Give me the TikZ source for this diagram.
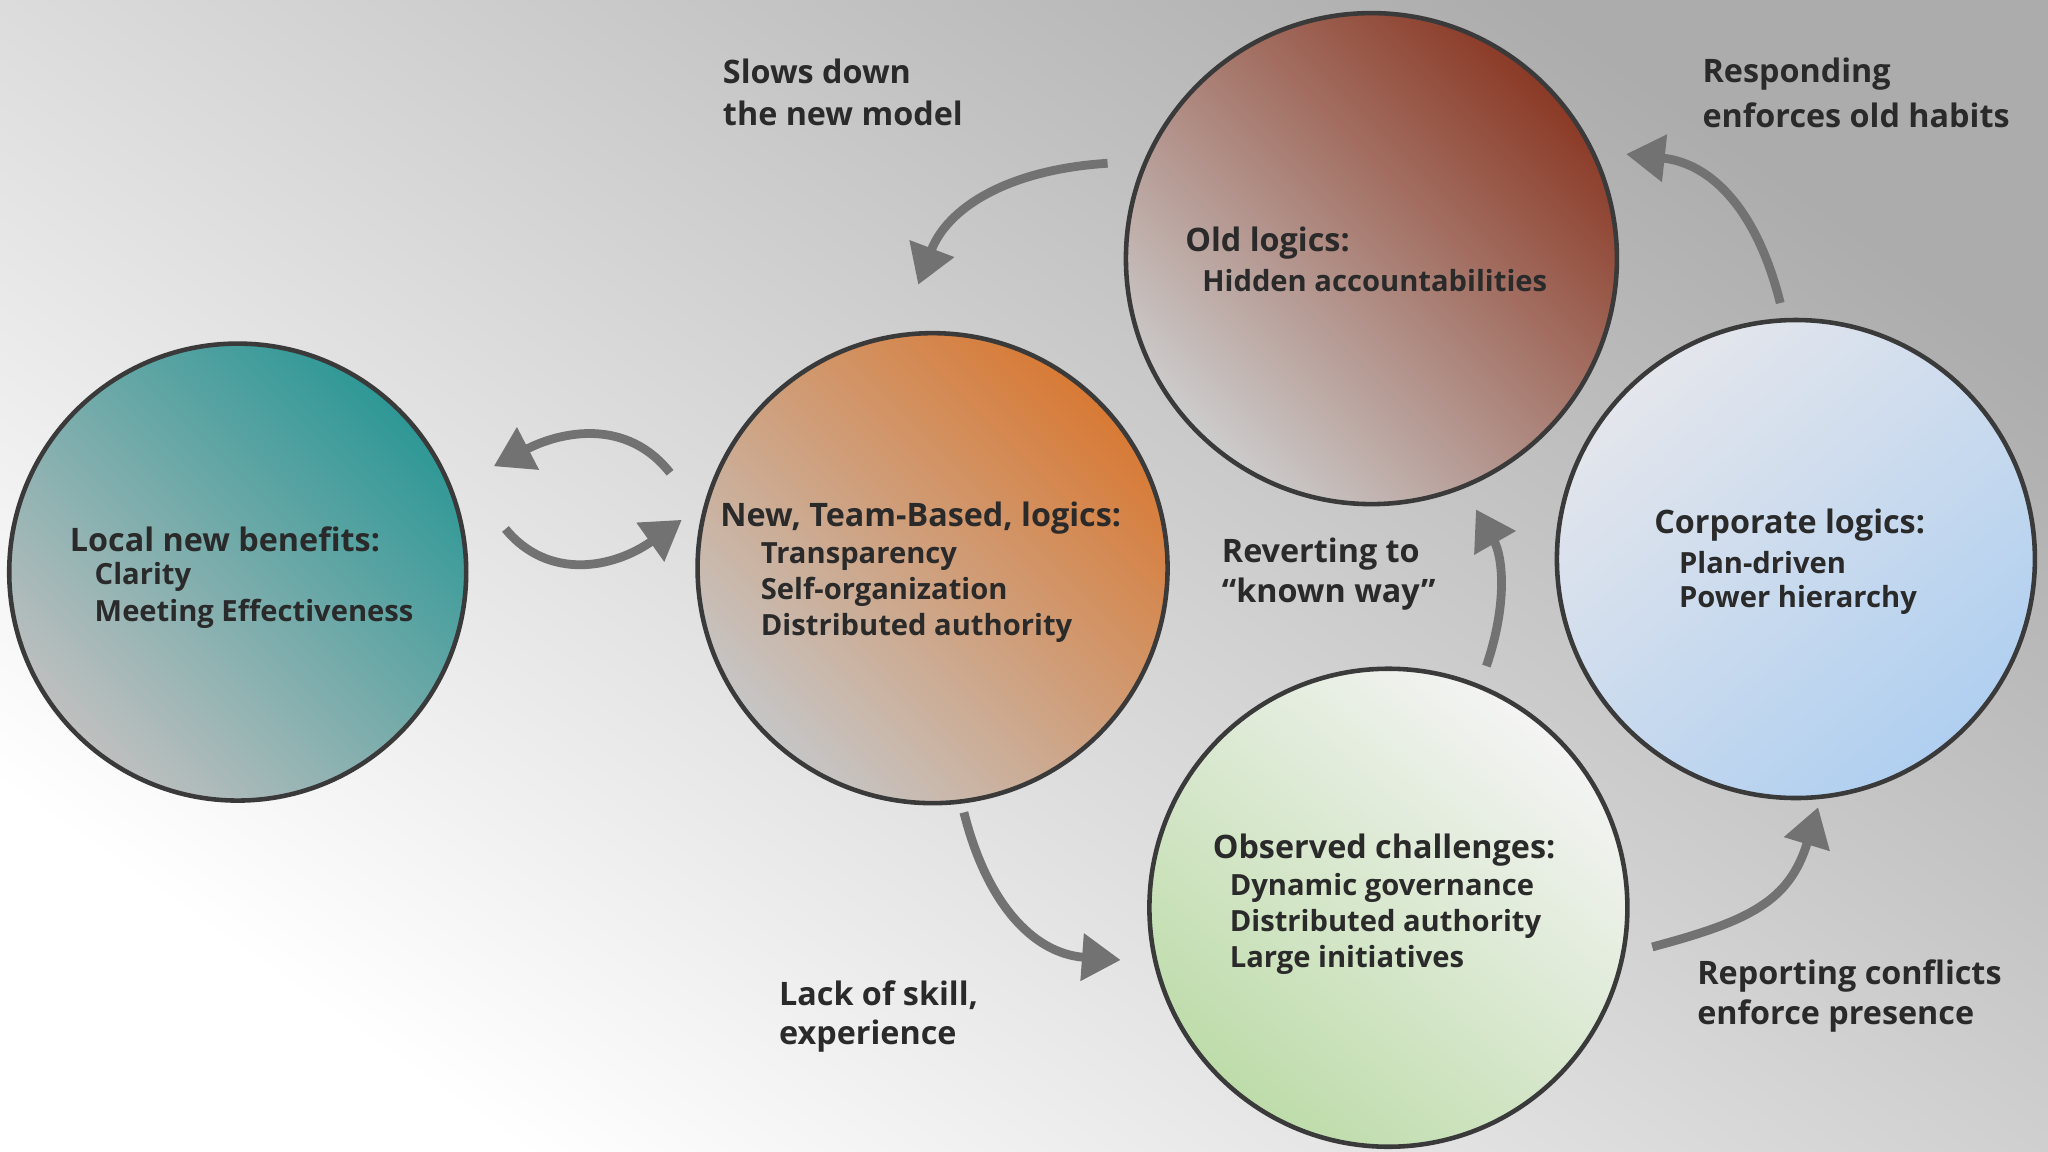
\documentclass[tikz,border=0pt]{standalone}
\usepackage{fontspec}
\setmainfont{Open Sans}
\usetikzlibrary{arrows.meta}
\definecolor{txt}{HTML}{2A2A2A}
\definecolor{arr}{HTML}{727272}
\definecolor{rim}{HTML}{3A3A3A}
\tikzset{
  bub/.style={circle,draw=rim,line width=1.3pt,minimum size=#1,inner sep=0pt},
  lab/.style={anchor=west,inner sep=0pt,text=txt,font=\fontsize{9.2}{11}\selectfont\bfseries},
  itm/.style={anchor=west,inner sep=0pt,text=txt,font=\fontsize{8.3}{10}\selectfont\bfseries},
  con/.style={draw=arr,line width=2.5pt,-{Triangle[length=11pt,width=13pt]}}
}
\begin{document}
\begin{tikzpicture}[x=0.01306cm,y=-0.01306cm]
\shade[top color=gray!65!white, bottom color=white, shading angle=-35] (0,0) rectangle (1568,882);
\useasboundingbox (0,0) rectangle (1568,882);
% circles
\node[bub=4.57cm, bottom color=gray!50, top color={rgb,255:red,46;green,152;blue,150}, shading angle=-45] (teal) at (182,438) {};
\node[bub=4.70cm, bottom color=gray!45, top color={rgb,255:red,216;green,122;blue,53}, shading angle=-45] (orange) at (714,435) {};
\node[bub=4.91cm, bottom color=gray!40, top color={rgb,255:red,139;green,58;blue,38}, shading angle=-45] (old) at (1050,198) {};
\node[bub=4.78cm, bottom color={rgb,255:red,176;green,207;blue,240}, top color={rgb,255:red,228;green,230;blue,236}, shading angle=40] (corp) at (1375,428) {};
\node[bub=4.78cm, bottom color={rgb,255:red,190;green,220;blue,170}, top color={rgb,255:red,244;green,244;blue,244}, shading angle=-40] (obs) at (1063,695) {};
% arrow coordinates
\coordinate (a1s) at (848,125); \coordinate (a1e) at (703,218);
\coordinate (a2s) at (513,362); \coordinate (a2e) at (378,357);
\coordinate (a3s) at (387,405); \coordinate (a3e) at (522,398);
\coordinate (a4s) at (738,622); \coordinate (a4e) at (858,735);
\coordinate (a5s) at (1138,510); \coordinate (a5e) at (1130,390);
\coordinate (a6s) at (1265,725); \coordinate (a6e) at (1392,618);
\coordinate (a7s) at (1363,232); \coordinate (a7e) at (1245,118);
\draw[con] (a1s) .. controls (770,130) and (725,160) .. (a1e);
\draw[con] (a2s) .. controls (480,320) and (430,330) .. (a2e);
\draw[con] (a3s) .. controls (420,445) and (470,435) .. (a3e);
\draw[con] (a4s) .. controls (755,690) and (790,730) .. (a4e);
\draw[con] (a5s) .. controls (1155,460) and (1150,425) .. (a5e);
\draw[con] (a6s) .. controls (1340,705) and (1370,690) .. (a6e);
\draw[con] (a7s) .. controls (1345,160) and (1310,125) .. (a7e);
% texts
\node[lab] (t1) at (553,55) {Slows down};
\node[lab] (t2) at (553,87) {the new model};
\node[lab] (t3) at (1303,57) {Responding};
\node[lab] (t4) at (1303,88) {enforces old habits};
\node[lab] (t5) at (907,186) {Old logics:};
\node[itm] (t6) at (920,215) {Hidden accountabilities};
\node[lab] (t7) at (53,413) {Local new benefits:};
\node[itm] (t8) at (72,442) {Clarity};
\node[itm] (t9) at (72,470) {Meeting Effectiveness};
\node[lab] (t10) at (551,397) {New, Team-Based, logics:};
\node[itm] (t11) at (582,426) {Transparency};
\node[itm] (t12) at (582,453) {Self-organization};
\node[itm] (t13) at (582,481) {Distributed authority};
\node[lab] (t14) at (935,424) {Reverting to};
\node[lab] (t15) at (935,455) {“known way”};
\node[lab] (t16) at (1266,402) {Corporate logics:};
\node[itm] (t17) at (1285,431) {Plan-driven};
\node[itm] (t18) at (1285,459) {Power hierarchy};
\node[lab] (t19) at (928,651) {Observed challenges:};
\node[itm] (t20) at (941,680) {Dynamic governance};
\node[itm] (t21) at (941,707) {Distributed authority};
\node[itm] (t22) at (941,735) {Large initiatives};
\node[lab] (t23) at (596,762) {Lack of skill,};
\node[lab] (t24) at (596,793) {experience};
\node[lab] (t25) at (1299,747) {Reporting conflicts};
\node[lab] (t26) at (1299,778) {enforce presence};
\end{tikzpicture}
\end{document}
